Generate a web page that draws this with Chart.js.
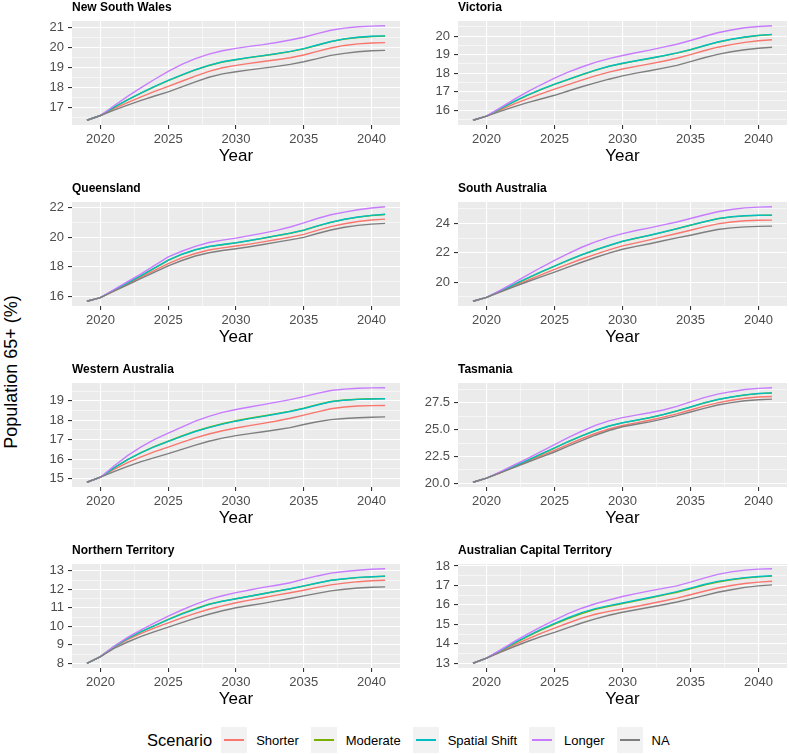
<!DOCTYPE html>
<html>
<head>
<meta charset="utf-8">
<title>Population 65+ by scenario</title>
<script src="https://cdn.jsdelivr.net/npm/chart.js@4.4.1/dist/chart.umd.min.js"></script>
<style>
  body { margin: 0; background: #fff; font-family: Arial, "Liberation Sans", sans-serif; }
  #wrap { position: relative; width: 789px; height: 754px; overflow: hidden; }
  #wrap canvas { position: absolute; }
  #ytitle { position: absolute; left: 11px; top: 372px; transform: translate(-50%, -50%) rotate(-90deg);
            font-size: 18px; color: #000; white-space: nowrap; }
  #legend { position: absolute; left: 147px; top: 727px; height: 26px; display: flex; align-items: center;
            font-size: 13px; color: #000; }
  #legend .head { font-size: 16.5px; margin-right: 9px; }
  #legend .key { width: 26px; height: 26px; background: #f2f2f2; position: relative; }
  #legend .key span { position: absolute; left: 3px; right: 3px; top: 12px; height: 1.5px; }
  #legend .lab { margin-left: 9px; margin-right: 12px; }
</style>
</head>
<body>
<div id="wrap">
  <div id="ytitle">Population 65+ (%)</div>
  <div id="legend"><span class="head">Scenario</span></div>
</div>
<script>
// years on the x axis
const years = [2019,2020,2021,2022,2023,2024,2025,2026,2027,2028,2029,2030,2031,2032,2033,2034,2035,2036,2037,2038,2039,2040,2041];
const xTicks = [2020, 2025, 2030, 2035, 2040];

const scenarios = ['Shorter', 'Moderate', 'Spatial Shift', 'Longer', 'NA'];
const colors = ['#F8766D', '#7CAE00', '#00BFC4', '#C77CFF', '#7F7F7F'];

const regionTitles = ['New South Wales', 'Victoria', 'Queensland', 'South Australia',
  'Western Australia', 'Tasmania', 'Northern Territory', 'Australian Capital Territory'];

// New South Wales
const nswShorter  = [16.34,16.58,16.92,17.23,17.52,17.79,18.04,18.30,18.56,18.80,18.98,19.10,19.20,19.29,19.38,19.48,19.62,19.80,19.97,20.10,20.18,20.22,20.24];
const nswModerate = [16.34,16.58,16.99,17.36,17.71,18.03,18.33,18.61,18.87,19.09,19.27,19.38,19.49,19.58,19.68,19.79,19.93,20.11,20.29,20.42,20.50,20.55,20.57];
const nswSpatial  = [16.34,16.58,17.00,17.37,17.72,18.04,18.34,18.62,18.88,19.10,19.28,19.39,19.50,19.59,19.69,19.80,19.94,20.12,20.30,20.43,20.51,20.56,20.58];
const nswLonger   = [16.34,16.58,17.07,17.54,17.98,18.40,18.80,19.15,19.44,19.66,19.83,19.95,20.05,20.14,20.25,20.37,20.51,20.69,20.86,20.97,21.04,21.07,21.09];
const nswNA       = [16.34,16.58,16.85,17.10,17.34,17.56,17.77,18.02,18.27,18.50,18.67,18.78,18.87,18.96,19.05,19.15,19.28,19.44,19.60,19.70,19.78,19.83,19.85];
// Victoria
const vicShorter  = [15.45,15.67,16.00,16.32,16.61,16.88,17.13,17.38,17.62,17.85,18.05,18.22,18.36,18.50,18.64,18.80,19.00,19.21,19.40,19.54,19.66,19.75,19.80];
const vicModerate = [15.45,15.67,16.07,16.45,16.80,17.11,17.39,17.65,17.91,18.15,18.36,18.52,18.66,18.79,18.93,19.08,19.26,19.47,19.67,19.82,19.94,20.03,20.08];
const vicSpatial  = [15.45,15.67,16.08,16.46,16.81,17.12,17.40,17.66,17.92,18.16,18.37,18.53,18.67,18.80,18.94,19.09,19.27,19.48,19.68,19.83,19.95,20.04,20.09];
const vicLonger   = [15.45,15.67,16.12,16.57,16.98,17.37,17.73,18.05,18.33,18.58,18.78,18.95,19.10,19.24,19.40,19.56,19.76,19.98,20.18,20.33,20.45,20.52,20.56];
const vicNA       = [15.45,15.67,15.93,16.17,16.40,16.60,16.80,17.03,17.26,17.47,17.67,17.85,18.00,18.13,18.27,18.42,18.62,18.83,19.01,19.15,19.26,19.34,19.40];
// Queensland
const qldShorter  = [15.69,15.93,16.40,16.86,17.31,17.76,18.22,18.60,18.90,19.13,19.28,19.40,19.53,19.68,19.84,20.00,20.18,20.45,20.70,20.90,21.05,21.15,21.21];
const qldModerate = [15.69,15.93,16.43,16.92,17.41,17.92,18.44,18.84,19.14,19.36,19.49,19.61,19.76,19.92,20.09,20.26,20.46,20.74,20.99,21.19,21.34,21.45,21.52];
const qldSpatial  = [15.69,15.93,16.44,16.93,17.42,17.93,18.45,18.85,19.15,19.37,19.50,19.62,19.77,19.93,20.10,20.27,20.47,20.75,21.00,21.20,21.35,21.46,21.53];
const qldLonger   = [15.69,15.93,16.48,17.01,17.53,18.10,18.67,19.05,19.38,19.64,19.80,19.93,20.10,20.27,20.45,20.68,20.95,21.25,21.50,21.68,21.84,21.95,22.04];
const qldNA       = [15.69,15.93,16.37,16.80,17.23,17.65,18.07,18.43,18.73,18.95,19.10,19.22,19.35,19.50,19.66,19.81,19.98,20.24,20.48,20.66,20.79,20.87,20.92];
// South Australia
const saShorter   = [18.70,18.97,19.36,19.76,20.13,20.50,20.87,21.23,21.58,21.90,22.20,22.47,22.68,22.88,23.10,23.32,23.54,23.77,23.97,24.10,24.18,24.22,24.23];
const saModerate  = [18.70,18.97,19.39,19.83,20.26,20.69,21.09,21.49,21.86,22.19,22.49,22.78,22.99,23.19,23.41,23.64,23.88,24.11,24.32,24.45,24.52,24.55,24.56];
const saSpatial   = [18.70,18.97,19.40,19.84,20.27,20.70,21.10,21.50,21.87,22.20,22.50,22.79,23.00,23.20,23.42,23.65,23.89,24.12,24.33,24.46,24.53,24.56,24.57];
const saLonger    = [18.70,18.97,19.45,19.95,20.48,21.00,21.49,21.95,22.38,22.75,23.05,23.31,23.52,23.70,23.90,24.10,24.34,24.58,24.80,24.95,25.06,25.11,25.14];
const saNA        = [18.70,18.97,19.33,19.69,20.03,20.36,20.69,21.03,21.36,21.68,21.98,22.24,22.44,22.62,22.82,23.02,23.20,23.40,23.59,23.70,23.77,23.80,23.82];
// Western Australia
const waShorter   = [14.81,15.07,15.47,15.82,16.12,16.39,16.62,16.86,17.09,17.29,17.46,17.60,17.72,17.84,17.96,18.10,18.26,18.43,18.59,18.68,18.73,18.75,18.76];
const waModerate  = [14.81,15.07,15.55,15.97,16.34,16.65,16.92,17.19,17.44,17.64,17.82,17.97,18.10,18.22,18.34,18.47,18.62,18.80,18.96,19.04,19.08,19.10,19.11];
const waSpatial   = [14.81,15.07,15.55,15.97,16.33,16.64,16.91,17.17,17.42,17.62,17.80,17.95,18.08,18.20,18.32,18.45,18.60,18.78,18.95,19.03,19.07,19.09,19.10];
const waLonger    = [14.81,15.07,15.65,16.18,16.63,17.02,17.34,17.65,17.95,18.20,18.40,18.55,18.68,18.80,18.93,19.06,19.21,19.38,19.53,19.60,19.64,19.66,19.67];
const waNA        = [14.81,15.07,15.36,15.63,15.87,16.08,16.28,16.50,16.72,16.92,17.08,17.21,17.31,17.41,17.51,17.62,17.78,17.92,18.03,18.09,18.13,18.15,18.17];
// Tasmania
const tasShorter  = [20.08,20.46,20.97,21.50,22.03,22.55,23.07,23.62,24.15,24.64,25.06,25.39,25.63,25.88,26.17,26.48,26.84,27.20,27.50,27.75,27.94,28.05,28.10];
const tasModerate = [20.08,20.46,20.99,21.56,22.12,22.70,23.28,23.87,24.41,24.91,25.33,25.63,25.87,26.11,26.41,26.74,27.11,27.49,27.81,28.04,28.24,28.37,28.43];
const tasSpatial  = [20.08,20.46,21.00,21.57,22.13,22.71,23.29,23.88,24.42,24.92,25.34,25.64,25.88,26.12,26.42,26.75,27.12,27.50,27.82,28.05,28.25,28.38,28.44];
const tasLonger   = [20.08,20.46,21.05,21.68,22.30,22.95,23.60,24.25,24.85,25.40,25.82,26.12,26.36,26.58,26.84,27.18,27.60,28.00,28.32,28.55,28.75,28.86,28.92];
const tasNA       = [20.08,20.46,20.95,21.45,21.95,22.43,22.91,23.45,23.98,24.48,24.92,25.27,25.50,25.73,26.01,26.31,26.65,26.99,27.30,27.53,27.70,27.80,27.85];
// Northern Territory
const ntShorter   = [8.00,8.36,8.86,9.28,9.62,9.91,10.18,10.45,10.70,10.92,11.10,11.27,11.41,11.54,11.68,11.81,11.95,12.10,12.24,12.33,12.41,12.46,12.49];
const ntModerate  = [8.00,8.36,8.90,9.35,9.71,10.04,10.37,10.68,10.95,11.19,11.36,11.49,11.62,11.76,11.89,12.02,12.17,12.33,12.48,12.56,12.63,12.67,12.70];
const ntSpatial   = [8.00,8.36,8.90,9.35,9.71,10.04,10.36,10.66,10.93,11.18,11.35,11.49,11.62,11.76,11.90,12.03,12.18,12.34,12.49,12.57,12.64,12.68,12.71];
const ntLonger    = [8.00,8.36,8.92,9.40,9.80,10.18,10.55,10.88,11.18,11.45,11.65,11.82,11.96,12.10,12.22,12.35,12.55,12.72,12.87,12.96,13.03,13.08,13.11];
const ntNA        = [8.00,8.36,8.80,9.15,9.45,9.71,9.95,10.20,10.44,10.65,10.84,11.00,11.12,11.24,11.37,11.50,11.64,11.78,11.91,12.00,12.07,12.11,12.13];
// Australian Capital Territory
const actShorter  = [13.00,13.26,13.60,13.93,14.24,14.54,14.81,15.07,15.32,15.52,15.67,15.79,15.92,16.06,16.20,16.35,16.52,16.70,16.87,17.00,17.10,17.17,17.22];
const actModerate = [13.00,13.26,13.64,14.01,14.37,14.70,15.01,15.30,15.56,15.77,15.93,16.07,16.21,16.35,16.50,16.65,16.83,17.02,17.18,17.29,17.38,17.44,17.48];
const actSpatial  = [13.00,13.26,13.65,14.03,14.40,14.74,15.05,15.34,15.60,15.81,15.96,16.10,16.24,16.38,16.53,16.68,16.86,17.05,17.21,17.31,17.40,17.46,17.50];
const actLonger   = [13.00,13.26,13.68,14.10,14.50,14.87,15.22,15.55,15.83,16.06,16.25,16.43,16.58,16.72,16.85,16.98,17.17,17.38,17.57,17.70,17.79,17.84,17.86];
const actNA       = [13.00,13.26,13.56,13.85,14.12,14.37,14.59,14.83,15.07,15.28,15.47,15.62,15.75,15.88,16.01,16.15,16.31,16.48,16.65,16.78,16.90,16.98,17.03];

// y tick labels per panel
const nswTicks = [17, 18, 19, 20, 21];
const vicTicks = [16, 17, 18, 19, 20];
const qldTicks = [16, 18, 20, 22];
const saTicks  = [20, 22, 24];
const waTicks  = [15, 16, 17, 18, 19];
const tasTicks = [20, 22.5, 25, 27.5];
const ntTicks  = [8, 9, 10, 11, 12, 13];
const actTicks = [13, 14, 15, 16, 17, 18];
const tickDecimals = [0, 0, 0, 0, 0, 1, 0, 0];

const regionSeries = [
  [nswShorter, nswModerate, nswSpatial, nswLonger, nswNA],
  [vicShorter, vicModerate, vicSpatial, vicLonger, vicNA],
  [qldShorter, qldModerate, qldSpatial, qldLonger, qldNA],
  [saShorter, saModerate, saSpatial, saLonger, saNA],
  [waShorter, waModerate, waSpatial, waLonger, waNA],
  [tasShorter, tasModerate, tasSpatial, tasLonger, tasNA],
  [ntShorter, ntModerate, ntSpatial, ntLonger, ntNA],
  [actShorter, actModerate, actSpatial, actLonger, actNA]
];
const regionTicks = [nswTicks, vicTicks, qldTicks, saTicks, waTicks, tasTicks, ntTicks, actTicks];

// layout
const colLeft = [30, 416];
const colWidth = [376, 373];
const colPadRight = [6, 2];
const rowTop = [21, 202, 383, 564];
const panelH = 104;
const FONT = 'Arial, "Liberation Sans", sans-serif';

Chart.defaults.font.family = FONT;

const panelPlugin = {
  id: 'panelPlugin',
  beforeDraw(chart, args, opts) {
    const a = chart.chartArea, c = chart.ctx;
    c.save();
    c.fillStyle = '#EBEBEB';
    c.fillRect(a.left, a.top, a.right - a.left, a.bottom - a.top);
    c.fillStyle = '#000';
    c.font = 'bold 12px ' + FONT;
    c.textAlign = 'left';
    c.textBaseline = 'alphabetic';
    c.fillText(opts.text, a.left, a.top - 10);
    c.restore();
  }
};

function halfSteps(major, lo, hi) {
  const step = major[1] - major[0];
  const out = [];
  let v = major[0] - step;
  while (v <= hi + 1e-9) {
    if (v >= lo) out.push(v);
    if (v + step / 2 >= lo && v + step / 2 <= hi) out.push(v + step / 2);
    v += step;
  }
  return out;
}

const isMajor = (list, v) => list.some(t => Math.abs(t - v) < 1e-6);

const xMin = 2017.9, xMax = 2042.1;
const xAll = halfSteps(xTicks, xMin, xMax);

const wrap = document.getElementById('wrap');

regionTitles.forEach((title, i) => {
  const col = i % 2, row = Math.floor(i / 2);
  const series = regionSeries[i];
  const ticks = regionTicks[i];
  const all = [].concat(...series);
  const lo = Math.min(...all), hi = Math.max(...all);
  const yMin = lo - (hi - lo) * 0.05, yMax = hi + (hi - lo) * 0.05;
  const yAll = halfSteps(ticks, yMin, yMax);

  const canvas = document.createElement('canvas');
  canvas.width = colWidth[col];
  canvas.height = 21 + panelH + 45;
  canvas.style.left = colLeft[col] + 'px';
  canvas.style.top = (rowTop[row] - 21) + 'px';
  wrap.appendChild(canvas);

  const datasets = series.map((vals, k) => ({
    label: scenarios[k],
    data: vals.map((v, j) => ({ x: years[j], y: v })),
    borderColor: colors[k],
    borderWidth: 1.4,
    pointRadius: 0,
    fill: false,
    tension: 0,
    order: scenarios.length - k
  }));

  new Chart(canvas, {
    type: 'line',
    data: { datasets: datasets },
    plugins: [panelPlugin],
    options: {
      responsive: false,
      animation: false,
      layout: { padding: { top: 21, right: colPadRight[col], left: 0, bottom: 0 } },
      plugins: {
        legend: { display: false },
        tooltip: { enabled: false },
        panelPlugin: { text: title }
      },
      scales: {
        x: {
          type: 'linear',
          min: xMin,
          max: xMax,
          afterBuildTicks: s => { s.ticks = xAll.map(v => ({ value: v })); },
          afterFit: s => { s.height = 45; },
          ticks: {
            autoSkip: false, maxRotation: 0, padding: 3,
            color: '#4D4D4D', font: { size: 13 },
            callback: v => isMajor(xTicks, v) ? String(v) : ''
          },
          grid: {
            color: '#FFFFFF',
            lineWidth: ctx => isMajor(xTicks, ctx.tick.value) ? 1.1 : 0.55,
            tickLength: 4,
            tickColor: ctx => isMajor(xTicks, ctx.tick.value) ? '#333333' : 'rgba(0,0,0,0)'
          },
          border: { display: false },
          title: { display: true, text: 'Year', color: '#000', font: { size: 17 }, padding: { top: 0, bottom: 3 } }
        },
        y: {
          min: yMin,
          max: yMax,
          afterBuildTicks: s => { s.ticks = yAll.map(v => ({ value: v })); },
          afterFit: s => { s.width = 42; },
          ticks: {
            autoSkip: false,
            padding: 4, color: '#4D4D4D', font: { size: 13 },
            callback: v => isMajor(ticks, v) ? v.toFixed(tickDecimals[i]) : ''
          },
          grid: {
            color: '#FFFFFF',
            lineWidth: ctx => isMajor(ticks, ctx.tick.value) ? 1.1 : 0.55,
            tickLength: 4,
            tickColor: ctx => isMajor(ticks, ctx.tick.value) ? '#333333' : 'rgba(0,0,0,0)'
          },
          border: { display: false }
        }
      }
    }
  });
});

// legend
const legend = document.getElementById('legend');
scenarios.forEach((name, k) => {
  const key = document.createElement('span');
  key.className = 'key';
  const line = document.createElement('span');
  line.style.background = colors[k];
  key.appendChild(line);
  const lab = document.createElement('span');
  lab.className = 'lab';
  lab.textContent = name;
  legend.appendChild(key);
  legend.appendChild(lab);
});
</script>
</body>
</html>
